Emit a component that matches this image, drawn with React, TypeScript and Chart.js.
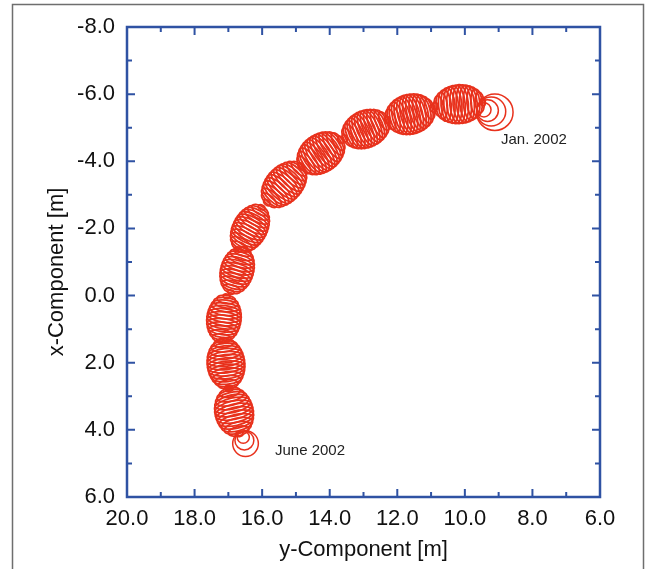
import React, { useEffect, useRef } from "react";
import { Chart, registerables } from "chart.js";

Chart.register(...registerables);

// ---- data ----
// horizontal axis = y-Component [m], vertical axis = x-Component [m]
const beadYComp = [10.17, 11.62, 12.93, 14.26, 15.35, 16.36, 16.74, 17.13, 17.07, 16.83];
const beadXComp = [-5.7, -5.4, -4.96, -4.24, -3.31, -2.0, -0.75, 0.69, 2.03, 3.46];
const beadLength = [1.6, 1.56, 1.55, 1.6, 1.68, 1.62, 1.52, 1.52, 1.6, 1.55];
const beadWidth = [1.15, 1.18, 1.1, 1.14, 1.08, 1.02, 0.98, 1.02, 1.12, 1.14];
const beadLoops = [16, 16, 16, 16, 16, 16, 15, 15, 16, 15];

const startYComp = [9.64];
const startXComp = [-5.58];
const startRadii = [0.54, 0.43, 0.32, 0.21];

const endYComp = [16.62];
const endXComp = [4.05];
const endRadii = [0.38, 0.28, 0.18];

const noteTexts = ["Jan. 2002", "June 2002"];
const noteYComp = [8.93, 15.62];
const noteXComp = [-4.63, 4.63];

const hTicks = [20, 18, 16, 14, 12, 10, 8, 6];
const vTicks = [-8, -6, -4, -2, 0, 2, 4, 6];

const hTitle = "y-Component [m]";
const vTitle = "x-Component [m]";

const RED = "#e8311c";
const BLUE = "#2f52a3";
const FONT = '"Liberation Sans", Arial, Helvetica, sans-serif';

const customPlugin = {
  id: "customDraw",
  beforeDraw(chart: any) {
    const ctx = chart.ctx;
    ctx.save();
    ctx.fillStyle = "#ffffff";
    ctx.fillRect(0, 0, chart.width, chart.height);
    ctx.strokeStyle = "#6e6e6e";
    ctx.lineWidth = 1.5;
    ctx.strokeRect(12.5, 4.5, 631, 640);
    ctx.restore();
  },
  afterDatasetsDraw(chart: any) {
    const ctx = chart.ctx;
    const xs = chart.scales.x;
    const ys = chart.scales.y;
    const ppu = Math.abs(xs.getPixelForValue(1) - xs.getPixelForValue(0));
    const pts = chart.getDatasetMeta(0).data.map((e: any) => ({ x: e.x, y: e.y }));
    const startPx = { x: xs.getPixelForValue(startYComp[0]), y: ys.getPixelForValue(startXComp[0]) };
    const endPx = { x: xs.getPixelForValue(endYComp[0]), y: ys.getPixelForValue(endXComp[0]) };
    ctx.save();
    ctx.beginPath();
    ctx.rect(chart.chartArea.left, chart.chartArea.top, chart.chartArea.width, chart.chartArea.height);
    ctx.clip();
    ctx.strokeStyle = RED;
    ctx.lineWidth = 1.8;
    const n = pts.length;
    for (let i = 0; i < n; i++) {
      const prev = i > 0 ? pts[i - 1] : startPx;
      const next = i < n - 1 ? pts[i + 1] : endPx;
      const ang = Math.atan2(next.y - prev.y, next.x - prev.x);
      const L = (beadLength[i] * ppu) / 2;
      const W = (beadWidth[i] * ppu) / 2;
      const N = beadLoops[i];
      for (let k = 0; k < N; k++) {
        const t = -0.98 + (1.96 * k) / (N - 1);
        const b = W * Math.pow(1 - t * t, 0.5);
        const a = 0.34 * b + 0.04 * L;
        const s = t * L * 0.9;
        ctx.beginPath();
        ctx.ellipse(pts[i].x + s * Math.cos(ang), pts[i].y + s * Math.sin(ang), a, b, ang, 0, Math.PI * 2);
        ctx.stroke();
      }
    }
    const group = (anchor: any, from: any, radii: number[]) => {
      let dx = anchor.x - from.x;
      let dy = anchor.y - from.y;
      const d = Math.hypot(dx, dy) || 1;
      dx /= d;
      dy /= d;
      for (const r of radii) {
        const rp = r * ppu;
        ctx.beginPath();
        ctx.arc(anchor.x + dx * rp, anchor.y + dy * rp, rp, 0, Math.PI * 2);
        ctx.stroke();
      }
    };
    ctx.lineWidth = 1.5;
    group(startPx, pts[0], startRadii);
    group(endPx, pts[n - 1], endRadii);
    ctx.restore();

    ctx.save();
    ctx.fillStyle = "#222222";
    ctx.font = "15px " + FONT;
    ctx.textAlign = "left";
    ctx.textBaseline = "middle";
    for (let i = 0; i < noteTexts.length; i++) {
      ctx.fillText(noteTexts[i], xs.getPixelForValue(noteYComp[i]), ys.getPixelForValue(noteXComp[i]));
    }
    ctx.restore();
  },
  afterDraw(chart: any) {
    const ctx = chart.ctx;
    const xs = chart.scales.x;
    const ys = chart.scales.y;
    const { left, right, top, bottom } = chart.chartArea;
    ctx.save();
    ctx.strokeStyle = BLUE;
    ctx.lineWidth = 2;
    const hVals: { v: number; major: boolean }[] = [];
    for (let i = 0; i < hTicks.length; i++) {
      hVals.push({ v: hTicks[i], major: true });
      if (i < hTicks.length - 1) hVals.push({ v: (hTicks[i] + hTicks[i + 1]) / 2, major: false });
    }
    const vVals: { v: number; major: boolean }[] = [];
    for (let i = 0; i < vTicks.length; i++) {
      vVals.push({ v: vTicks[i], major: true });
      if (i < vTicks.length - 1) vVals.push({ v: (vTicks[i] + vTicks[i + 1]) / 2, major: false });
    }
    ctx.beginPath();
    for (const t of hVals) {
      const px = xs.getPixelForValue(t.v);
      const len = t.major ? 8 : 5;
      ctx.moveTo(px, bottom);
      ctx.lineTo(px, bottom - len);
      ctx.moveTo(px, top);
      ctx.lineTo(px, top + len);
    }
    for (const t of vVals) {
      const py = ys.getPixelForValue(t.v);
      const len = t.major ? 8 : 5;
      ctx.moveTo(left, py);
      ctx.lineTo(left + len, py);
      ctx.moveTo(right, py);
      ctx.lineTo(right - len, py);
    }
    ctx.stroke();
    ctx.lineWidth = 2.5;
    ctx.strokeRect(left, top, right - left, bottom - top);
    ctx.restore();

    // vertical axis title
    ctx.save();
    ctx.fillStyle = "#111111";
    ctx.font = "22px " + FONT;
    ctx.textAlign = "center";
    ctx.textBaseline = "middle";
    ctx.translate(57, (top + bottom) / 2 + 10);
    ctx.rotate(-Math.PI / 2);
    ctx.fillText(vTitle, 0, 0);
    ctx.restore();
  },
};

export default function App() {
  const canvasRef = useRef<HTMLCanvasElement | null>(null);

  useEffect(() => {
    if (!canvasRef.current) return;
    const chart = new Chart(canvasRef.current, {
      type: "scatter",
      data: {
        datasets: [
          {
            label: "track",
            data: beadYComp.map((v, i) => ({ x: v, y: beadXComp[i] })),
            pointRadius: 0,
            pointHoverRadius: 0,
            showLine: false,
          },
        ],
      },
      options: {
        responsive: false,
        animation: false,
        events: [],
        layout: { padding: { left: 0, top: 27, right: 47, bottom: 0 } },
        plugins: { legend: { display: false }, tooltip: { enabled: false }, title: { display: false } },
        scales: {
          x: {
            type: "linear",
            reverse: true,
            min: 6,
            max: 20,
            afterBuildTicks: (scale: any) => {
              scale.ticks = hTicks.map((v) => ({ value: v }));
            },
            afterFit: (scale: any) => {
              scale.height = 72;
            },
            grid: { display: false, drawTicks: false },
            border: { display: false },
            ticks: {
              padding: 9,
              color: "#111111",
              font: { family: FONT, size: 22 },
              maxRotation: 0,
              autoSkip: false,
              callback: (v: any) => Number(v).toFixed(1),
            },
            title: {
              display: true,
              text: hTitle,
              color: "#111111",
              font: { family: FONT, size: 22 },
              padding: { top: 0, bottom: 6 },
            },
          },
          y: {
            type: "linear",
            reverse: true,
            min: -8,
            max: 6,
            afterBuildTicks: (scale: any) => {
              scale.ticks = vTicks.map((v) => ({ value: v }));
            },
            afterFit: (scale: any) => {
              scale.width = 127;
            },
            grid: { display: false, drawTicks: false },
            border: { display: false },
            ticks: {
              padding: 12,
              color: "#111111",
              font: { family: FONT, size: 22 },
              autoSkip: false,
              callback: (v: any) => Number(v).toFixed(1),
            },
            title: { display: false },
          },
        },
      },
      plugins: [customPlugin],
    });
    return () => chart.destroy();
  }, []);

  return (
    <div style={{ position: "fixed", left: 0, top: 0, width: 647, height: 569, background: "#fff" }}>
      <canvas ref={canvasRef} width={647} height={569} style={{ display: "block" }} />
    </div>
  );
}
